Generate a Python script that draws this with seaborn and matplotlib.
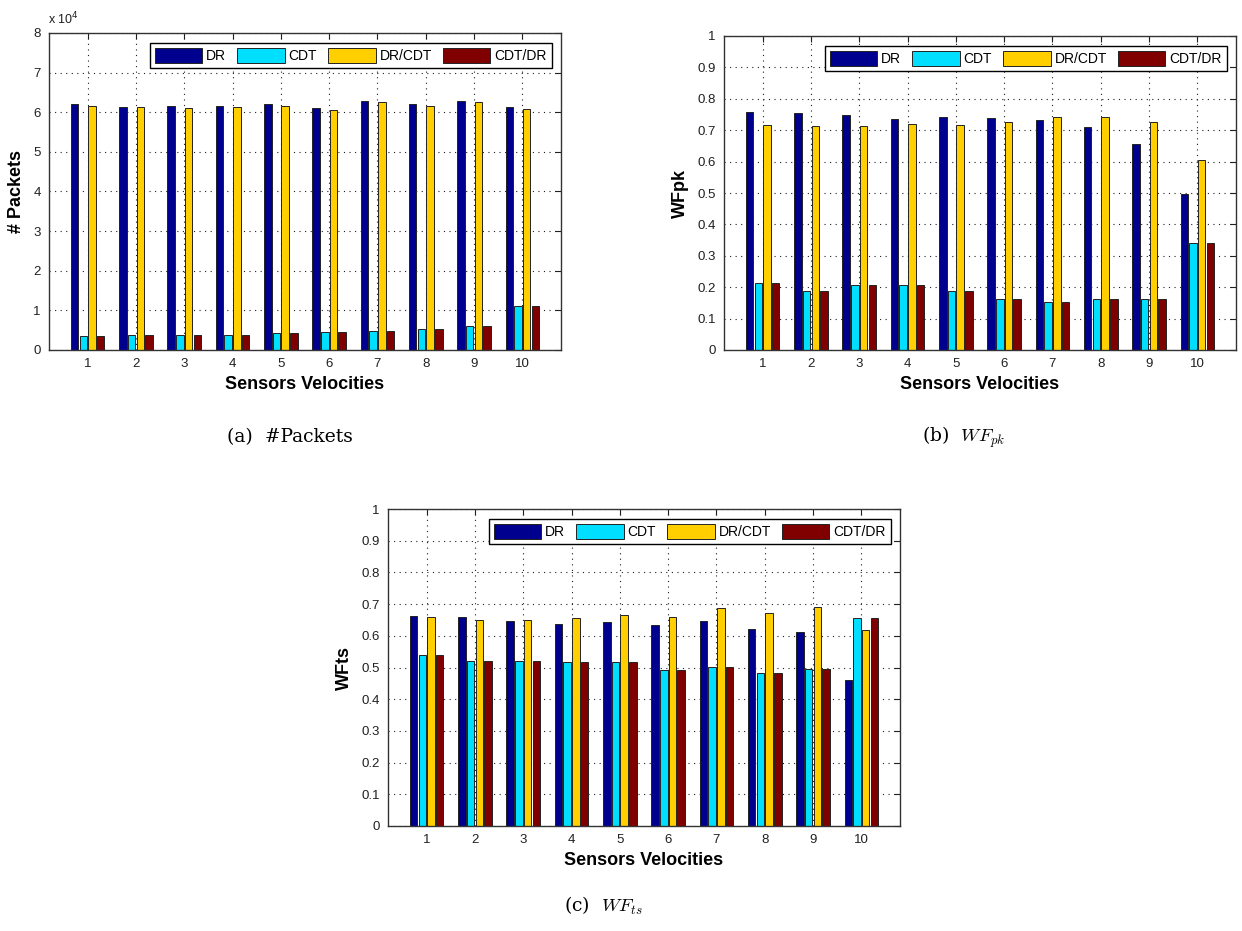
import matplotlib
matplotlib.use('Agg')
import matplotlib.pyplot as plt
from matplotlib.ticker import FuncFormatter
import seaborn as sns
import pandas as pd
import numpy as np

# sensor velocities on the x axis
velocities = ['1', '2', '3', '4', '5', '6', '7', '8', '9', '10']
methods = ['DR', 'CDT', 'DR/CDT', 'CDT/DR']
colors = ['#00008f', '#00dfff', '#ffcf00', '#800000']

# (a) number of packets
packets_dr = [62000, 61400, 61500, 61700, 62000, 61000, 62900, 62000, 62900, 61200]
packets_cdt = [3500, 3900, 3900, 3900, 4200, 4500, 4700, 5300, 6100, 11000]
packets_drcdt = [61700, 61400, 61100, 61400, 61700, 60600, 62600, 61700, 62600, 60800]
packets_cdtdr = [3500, 3900, 3900, 3900, 4200, 4500, 4700, 5300, 6100, 11000]

# (b) WFpk
wfpk_dr = [0.758, 0.754, 0.747, 0.736, 0.743, 0.740, 0.734, 0.711, 0.657, 0.497]
wfpk_cdt = [0.212, 0.187, 0.208, 0.208, 0.187, 0.161, 0.154, 0.161, 0.161, 0.341]
wfpk_drcdt = [0.718, 0.714, 0.714, 0.721, 0.718, 0.725, 0.743, 0.743, 0.725, 0.606]
wfpk_cdtdr = [0.212, 0.187, 0.208, 0.208, 0.187, 0.161, 0.154, 0.161, 0.161, 0.341]

# (c) WFts
wfts_dr = [0.662, 0.659, 0.648, 0.638, 0.644, 0.633, 0.648, 0.620, 0.612, 0.460]
wfts_cdt = [0.539, 0.521, 0.521, 0.517, 0.517, 0.492, 0.502, 0.484, 0.496, 0.655]
wfts_drcdt = [0.659, 0.651, 0.651, 0.655, 0.666, 0.659, 0.687, 0.672, 0.690, 0.619]
wfts_cdtdr = [0.539, 0.521, 0.521, 0.517, 0.517, 0.492, 0.502, 0.484, 0.496, 0.655]

sns.set_style('white')
plt.rcParams['font.family'] = ['Liberation Sans', 'DejaVu Sans']
plt.rcParams['text.color'] = 'black'
plt.rcParams['axes.labelcolor'] = 'black'


def to_long(series):
    rows = []
    for name, vals in zip(methods, series):
        for v, val in zip(velocities, vals):
            rows.append({'velocity': v, 'method': name, 'value': val})
    return pd.DataFrame(rows)


def draw_panel(ax, series, ylabel, ymax, yticks, formatter):
    df = to_long(series)
    sns.barplot(data=df, x='velocity', y='value', hue='method',
                order=velocities, hue_order=methods, palette=colors,
                width=0.72, gap=0.14, edgecolor='#222222', linewidth=0.7,
                saturation=1, errorbar=None, ax=ax)

    ax.set_xlim(-0.8, 9.8)
    ax.set_ylim(0, ymax)
    ax.set_yticks(yticks)
    ax.yaxis.set_major_formatter(formatter)

    ax.set_axisbelow(True)
    ax.grid(True, linestyle=(0, (1, 4)), color='#202020', linewidth=0.8)
    ax.tick_params(direction='in', top=True, right=True, length=4, width=0.8,
                   labelsize=9.5, pad=6, colors='#202020')
    for s in ax.spines.values():
        s.set_color('#333333')
        s.set_linewidth(1.0)

    ax.set_xlabel('Sensors Velocities', fontsize=13, fontweight='bold', labelpad=4)
    ax.set_ylabel(ylabel, fontsize=13, fontweight='bold', labelpad=6)

    sns.move_legend(ax, 'upper right', bbox_to_anchor=(0.982, 0.968),
                    borderaxespad=0, ncol=4, title=None, frameon=True,
                    fancybox=False, edgecolor='black', framealpha=1,
                    fontsize=10, handlelength=3.4, handleheight=1.3,
                    handletextpad=0.3, columnspacing=0.8, borderpad=0.35)
    ax.get_legend().get_frame().set_linewidth(1.0)


fig = plt.figure(figsize=(12.42, 9.31), dpi=100)
W, H = 1242, 931

ax_a = fig.add_axes([49 / W, 1 - 350 / H, 512 / W, 317 / H])
ax_b = fig.add_axes([724 / W, 1 - 350 / H, 512 / W, 314 / H])
ax_c = fig.add_axes([388 / W, 1 - 826 / H, 512 / W, 317 / H])

draw_panel(ax_a, [packets_dr, packets_cdt, packets_drcdt, packets_cdtdr],
           '# Packets', 80000, np.arange(0, 80001, 10000),
           FuncFormatter(lambda v, p: f"{v / 1e4:g}"))
ax_a.annotate('x 10$^{4}$', xy=(0, 1), xycoords='axes fraction',
              xytext=(-1, 4), textcoords='offset points',
              ha='left', va='bottom', fontsize=9, color='#202020')

unit_ticks = np.round(np.arange(0, 1.01, 0.1), 1)
draw_panel(ax_b, [wfpk_dr, wfpk_cdt, wfpk_drcdt, wfpk_cdtdr],
           'WFpk', 1, unit_ticks, FuncFormatter(lambda v, p: f"{v:g}"))
draw_panel(ax_c, [wfts_dr, wfts_cdt, wfts_drcdt, wfts_cdtdr],
           'WFts', 1, unit_ticks, FuncFormatter(lambda v, p: f"{v:g}"))

# sub-figure captions
cap = dict(ha='center', va='center', fontsize=13.5, family='DejaVu Serif',
           math_fontfamily='cm', color='black')
fig.text(290 / W, 1 - 437 / H, '(a)  #Packets', **cap)
fig.text(964 / W, 1 - 437 / H, '(b)  $WF_{pk}$', **cap)
fig.text(604 / W, 1 - 906 / H, '(c)  $WF_{ts}$', **cap)

fig.savefig('out.png', dpi=100)
